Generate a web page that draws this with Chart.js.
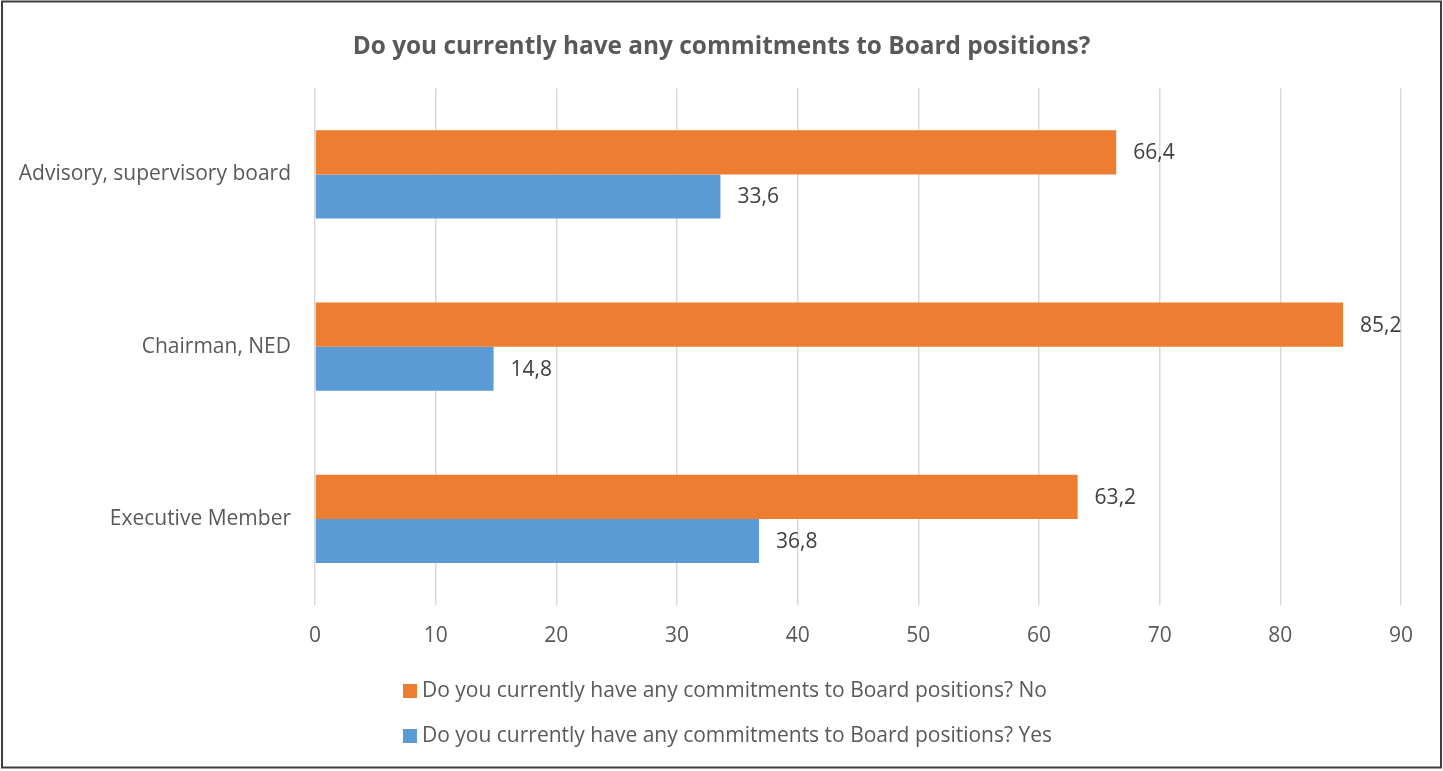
<!DOCTYPE html>
<html>
<head>
<meta charset="utf-8">
<title>Board positions</title>
<script src="https://cdn.jsdelivr.net/npm/chart.js@4.4.1/dist/chart.umd.min.js"></script>
<style>
  html, body { margin: 0; padding: 0; background: #ffffff; }
  #wrap { position: relative; width: 1443px; height: 771px; }
</style>
</head>
<body>
<div id="wrap"><canvas id="chart" width="1443" height="771"></canvas></div>
<script>
// Survey answers, percent of respondents
const categories = ['Advisory, supervisory board', 'Chairman, NED', 'Executive Member'];
const seriesNames = [
  'Do you currently have any commitments to Board positions? No',
  'Do you currently have any commitments to Board positions? Yes'
];
const noValues = [66.4, 85.2, 63.2];
const yesValues = [33.6, 14.8, 36.8];
const titleText = 'Do you currently have any commitments to Board positions?';

const FONT = '"Open Sans", Lato, sans-serif';
const TEXT = '#595959';
const SIZE = 21;

const fmt = v => v.toFixed(1).replace('.', ',');

// value labels just past the end of each bar
const valueLabels = {
  id: 'valueLabels',
  afterDatasetsDraw(chart) {
    const ctx = chart.ctx;
    ctx.save();
    ctx.font = SIZE + 'px ' + FONT;
    ctx.fillStyle = '#404040';
    ctx.textAlign = 'left';
    ctx.textBaseline = 'middle';
    chart.data.datasets.forEach((ds, di) => {
      const meta = chart.getDatasetMeta(di);
      meta.data.forEach((bar, i) => {
        ctx.fillText(fmt(ds.data[i]), bar.x + 17, bar.y + 1);
      });
    });
    ctx.restore();
  }
};

// stacked legend under the axis plus the outer frame
const frameAndLegend = {
  id: 'frameAndLegend',
  afterDraw(chart) {
    const ctx = chart.ctx;
    ctx.save();
    ctx.font = SIZE + 'px ' + FONT;
    ctx.textBaseline = 'middle';
    ctx.textAlign = 'left';
    const rows = [691, 736];
    chart.data.datasets.forEach((ds, i) => {
      const y = rows[i];
      ctx.fillStyle = ds.backgroundColor;
      ctx.fillRect(403, y - 7, 14, 14);
      ctx.fillStyle = TEXT;
      ctx.fillText(ds.label, 422, y);
    });
    ctx.strokeStyle = '#3f3f3f';
    ctx.lineWidth = 2;
    ctx.strokeRect(2, 1.5, 1439, 766);
    ctx.restore();
  }
};

new Chart(document.getElementById('chart'), {
  type: 'bar',
  data: {
    labels: categories,
    datasets: [
      { label: seriesNames[0], data: noValues, backgroundColor: '#ED7D31', borderWidth: 0 },
      { label: seriesNames[1], data: yesValues, backgroundColor: '#5B9BD5', borderWidth: 0 }
    ]
  },
  options: {
    indexAxis: 'y',
    responsive: false,
    animation: false,
    categoryPercentage: 0.512,
    barPercentage: 1.0,
    layout: { padding: { left: 0, right: 0, top: 0, bottom: 124 } },
    plugins: {
      legend: { display: false },
      tooltip: { enabled: false },
      title: {
        display: true,
        text: titleText,
        color: TEXT,
        font: { family: FONT, size: 24.4, weight: 'bold' },
        padding: { top: 32, bottom: 27 }
      }
    },
    scales: {
      x: {
        min: 0,
        max: 90,
        afterFit(scale) { scale.height = 42; scale.paddingRight = 42; },
        ticks: { stepSize: 10, color: TEXT, padding: 18, font: { family: FONT, size: SIZE } },
        grid: { color: '#D9D9D9', lineWidth: 1.5, drawTicks: false },
        border: { display: false }
      },
      y: {
        afterFit(scale) { scale.width = 315; },
        ticks: { color: TEXT, padding: 24, font: { family: FONT, size: SIZE } },
        grid: { display: false, drawTicks: false },
        border: { display: false }
      }
    }
  },
  plugins: [valueLabels, frameAndLegend]
});
</script>
</body>
</html>
